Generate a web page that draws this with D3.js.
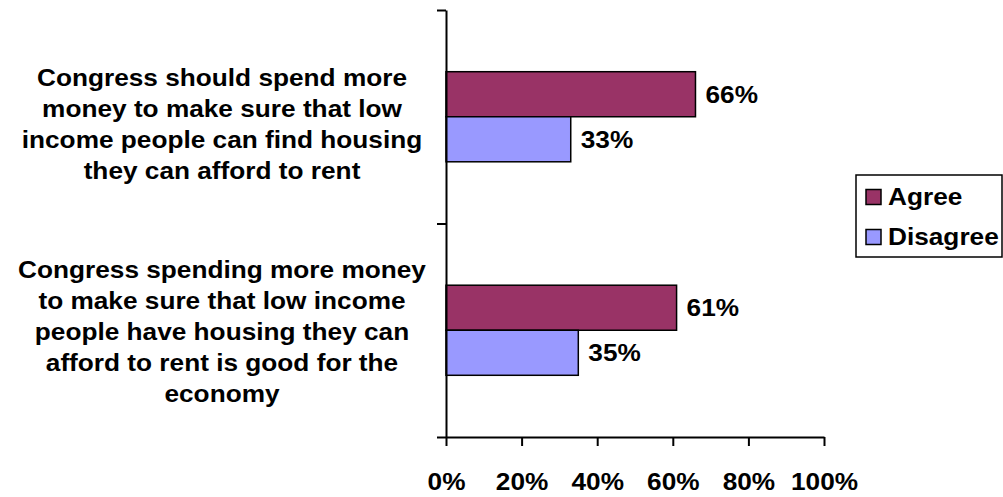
<!DOCTYPE html>
<html>
<head>
<meta charset="utf-8">
<script src="https://cdn.jsdelivr.net/npm/d3@7"></script>
<style>
  html, body { margin: 0; padding: 0; background: #fff; }
  svg { display: block; }
  text { font-family: "Liberation Sans", Arial, sans-serif; font-weight: bold; fill: #000; }
</style>
</head>
<body>
<svg id="chart" width="1003" height="497"></svg>
<script>
const categories = [
  ["Congress should spend more", "money to make sure that low", "income people can find housing", "they can afford to rent"],
  ["Congress spending more money", "to make sure that low income", "people have housing they can", "afford to rent is good for the", "economy"]
];
const seriesNames = ["Agree", "Disagree"];
const agreeValues = [0.66, 0.61];
const disagreeValues = [0.33, 0.35];
const xTicks = [0, 0.2, 0.4, 0.6, 0.8, 1.0];
const colors = ["#993366", "#9999FF"];

const values = [agreeValues, disagreeValues];
const svg = d3.select("#chart");
const FS = 23, SX = 1.14;

function label(parent, px, py, str, anchor) {
  const g = parent.append("g").attr("transform", `translate(${px},${py}) scale(${SX},1)`);
  g.append("text").attr("x", 0).attr("y", 0).attr("dy", "0.36em")
    .attr("font-size", FS).attr("text-anchor", anchor || "start").text(str);
  return g;
}

const x = d3.scaleLinear().domain([0, 1]).range([446, 824]);
const catIdx = categories.map((d, i) => i);
const y = d3.scaleBand().domain(catIdx).range([10, 437]).padding(0);
const ySub = d3.scaleBand().domain(seriesNames).range([0, y.bandwidth()]).paddingInner(0).paddingOuter(1.37);
const yLin = d3.scaleLinear().domain([0, categories.length]).range([10, 437]);

// bars
catIdx.forEach(ci => {
  const g = svg.append("g").attr("transform", `translate(0,${y(ci)})`);
  seriesNames.forEach((s, si) => {
    const v = values[si][ci];
    g.append("rect")
      .attr("x", x(0))
      .attr("y", ySub(s))
      .attr("width", x(v) - x(0))
      .attr("height", ySub.bandwidth())
      .attr("fill", colors[si])
      .attr("stroke", "#000")
      .attr("stroke-width", 1.5);
    label(g, x(v) + 10, ySub(s) + ySub.bandwidth() / 2, d3.format(".0%")(v));
  });
});

// y axis
const yAxis = svg.append("g").attr("transform", `translate(${x(0)},0)`)
  .call(d3.axisLeft(yLin).tickValues(d3.range(categories.length + 1)).tickSize(9).tickSizeOuter(0).tickFormat(""));
yAxis.selectAll("path, line").attr("stroke", "#000").attr("stroke-width", 2);

// x axis
const xAxis = svg.append("g").attr("transform", `translate(0,437)`)
  .call(d3.axisBottom(x).tickValues(xTicks).tickSize(9).tickSizeOuter(0).tickFormat(d3.format(".0%")));
xAxis.selectAll("path, line").attr("stroke", "#000").attr("stroke-width", 2);
xAxis.selectAll("text")
  .attr("y", 45).attr("dy", "0.36em")
  .attr("transform", `scale(${SX},1)`)
  .attr("font-size", FS)
  .style("font-family", "'Liberation Sans', Arial, sans-serif")
  .style("font-weight", "bold")
  .attr("fill", "#000");

// category labels
const lineH = 31;
catIdx.forEach(ci => {
  const lines = categories[ci];
  const cy = y(ci) + y.bandwidth() / 2 + (ci === 0 ? 7 : 1);
  lines.forEach((ln, li) => {
    label(svg, 222, cy + (li - (lines.length - 1) / 2) * lineH, ln, "middle");
  });
});

// legend
const lg = svg.append("g");
lg.append("rect").attr("x", 856).attr("y", 175).attr("width", 146).attr("height", 82)
  .attr("fill", "#fff").attr("stroke", "#000").attr("stroke-width", 1.5);
seriesNames.forEach((s, si) => {
  const yy = 197 + si * 40;
  lg.append("rect").attr("x", 866).attr("y", yy - 7.5).attr("width", 15).attr("height", 15)
    .attr("fill", colors[si]).attr("stroke", "#000").attr("stroke-width", 1.5);
  label(lg, 888, yy, s);
});
</script>
</body>
</html>
